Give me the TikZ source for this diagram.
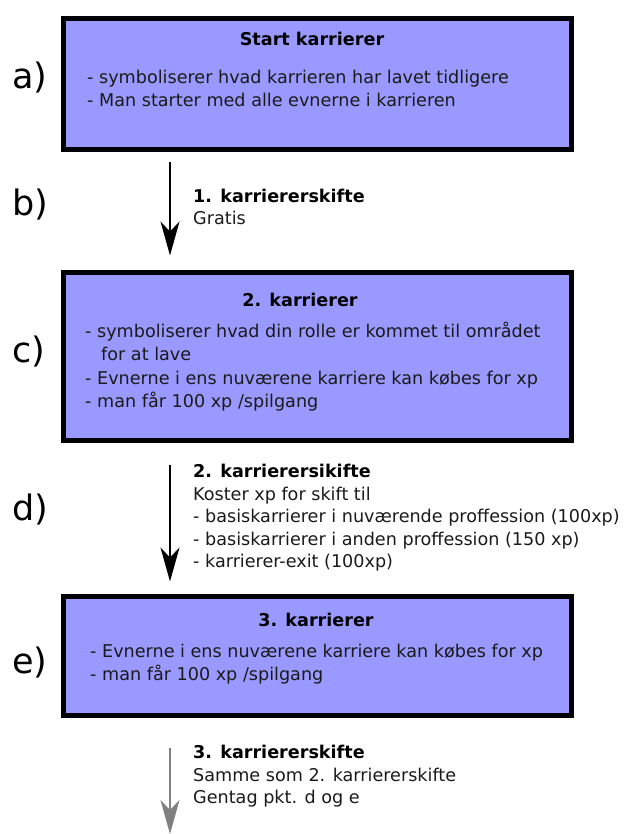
\documentclass[tikz,border=0pt]{standalone}
\usepackage{fontspec}
\setmainfont{DejaVu Sans}
\usetikzlibrary{arrows.meta}
\definecolor{cardblue}{HTML}{9999FF}
\definecolor{textgray}{HTML}{1A1A1A}
\tikzset{
  card/.style={draw=black, line width=5pt, fill=cardblue, inner sep=0pt},
  cardtitle/.style={font=\fontsize{17.6}{20}\selectfont\bfseries, anchor=base, inner sep=0pt},
  bodytext/.style={font=\fontsize{17.6}{20}\selectfont, text=textgray, anchor=base west, inner sep=0pt},
  steplabel/.style={font=\fontsize{35}{40}\selectfont, anchor=west, inner sep=0pt},
  flow/.style={-{Stealth[length=34pt,width=19pt,inset=10pt]}, line width=1.6pt},
}
\begin{document}
\begin{tikzpicture}[x=1pt,y=-1pt]
  \useasboundingbox (0,0) rectangle (625,834);

  % The three career boxes
  \node[card, minimum width=508pt, minimum height=131pt] (start) at (317.5,84) {};
  \node[card, minimum width=508pt, minimum height=168pt] (second) at (317.5,356.5) {};
  \node[card, minimum width=508pt, minimum height=119pt] (third) at (317.5,656) {};

  % Texts in the boxes
  \node[cardtitle] (starttitle) at (312,46) {Start karrierer};
  \node[bodytext] (start1) at (87,84) {- symboliserer hvad karrieren har lavet tidligere};
  \node[bodytext] (start2) at (87,107) {- Man starter med alle evnerne i karrieren};

  \node[cardtitle] (secondtitle) at (300,306) {2. karrierer};
  \node[bodytext] (second1) at (85,337) {- symboliserer hvad din rolle er kommet til området};
  \node[bodytext] (second2) at (101,360) {for at lave};
  \node[bodytext] (second3) at (85,384) {- Evnerne i ens nuværene karriere kan købes for xp};
  \node[bodytext] (second4) at (85,407) {- man får 100 xp /spilgang};

  \node[cardtitle] (thirdtitle) at (316,626) {3. karrierer};
  \node[bodytext] (third1) at (90,657) {- Evnerne i ens nuværene karriere kan købes for xp};
  \node[bodytext] (third2) at (90,680) {- man får 100 xp /spilgang};

  % Step letters
  \node[steplabel] (la) at (12,78) {a)};
  \node[steplabel] (lb) at (12,205) {b)};
  \node[steplabel] (lc) at (12,352) {c)};
  \node[steplabel] (ld) at (12,510) {d)};
  \node[steplabel] (le) at (12,663) {e)};

  % Arrows between the boxes
  \coordinate (axis) at (170,0);
  \coordinate (bottom) at (170,834);
  \draw[flow, shorten <=10.5pt, shorten >=14.5pt] (start.south -| axis) -- (second.north -| axis);
  \draw[flow, shorten <=21.5pt, shorten >=12.5pt] (second.south -| axis) -- (third.north -| axis);
  \draw[flow, gray, line width=1.3pt, shorten <=29.5pt] (third.south -| axis) -- (bottom);

  % Texts beside the arrows
  \node[bodytext, font=\fontsize{17.6}{20}\selectfont\bfseries, text=black] (shift1) at (193,203) {1. karriererskifte};
  \node[bodytext] (shift1a) at (193,225) {Gratis};

  \node[bodytext, font=\fontsize{17.6}{20}\selectfont\bfseries, text=black] (shift2) at (193,477) {2. karrierersikifte};
  \node[bodytext] (shift2a) at (193,500) {Koster xp for skift til};
  \node[bodytext] (shift2b) at (193,522) {- basiskarrierer i nuværende proffession (100xp)};
  \node[bodytext] (shift2c) at (193,545) {- basiskarrierer i anden proffession (150 xp)};
  \node[bodytext] (shift2d) at (193,567) {- karrierer-exit (100xp)};

  \node[bodytext, font=\fontsize{17.6}{20}\selectfont\bfseries, text=black] (shift3) at (193,758) {3. karriererskifte};
  \node[bodytext] (shift3a) at (193,781) {Samme som 2. karriererskifte};
  \node[bodytext] (shift3b) at (193,803) {Gentag pkt. d og e};
\end{tikzpicture}
\end{document}
